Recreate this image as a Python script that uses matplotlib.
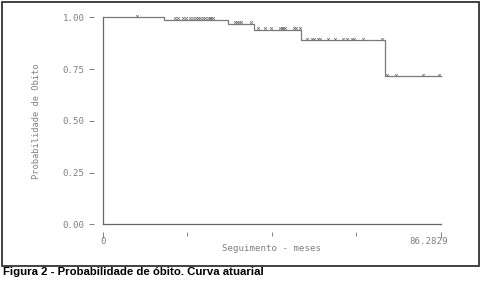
import numpy as np
import matplotlib
matplotlib.use("Agg")
import matplotlib.pyplot as plt
import matplotlib.transforms as mtransforms
from matplotlib.patches import Rectangle

# ---- data ----
step_times = [0.0, 15.65, 32.0, 38.55, 50.55, 72.1]
levels = [1.0, 0.989, 0.968, 0.941, 0.890, 0.716]
end_time = 86.2829
censor_times = [8.68,
                18.38, 19.15, 20.42, 21.19, 22.21, 22.98, 23.74, 24.25, 24.76,
                25.53, 26.04, 26.81, 27.32, 27.57, 28.08,
                33.70, 34.21, 34.72, 35.23, 37.78,
                39.57, 41.36, 42.89, 45.19, 45.70, 45.95, 46.46, 48.76, 49.27, 50.29,
                52.08, 53.36, 53.74, 54.89, 55.40, 57.44, 59.23, 61.27, 62.29,
                63.57, 63.95, 66.37, 71.22,
                72.50, 74.80, 81.69, 85.78]
x_tick_values = [0, 21.57, 43.14, 64.71, 86.2829]
x_tick_labels = ["0", "", "", "", "86.2829"]
y_tick_values = [0.0, 0.25, 0.5, 0.75, 1.0]
y_tick_labels = ["0.00", "0.25", "0.50", "0.75", "1.00"]
x_label = "Seguimento - meses"
y_label = "Probabilidade de Obito"
caption = "Figura 2 - Probabilidade de óbito. Curva atuarial"

W, H = 481, 281
fig = plt.figure(figsize=(W / 100, H / 100), dpi=100)
fig.patch.set_facecolor("white")

# frame around the figure area
fig.patches.append(Rectangle((1.5 / W, 1 - 266 / H), 477.5 / W, 264.5 / H,
                             transform=fig.transFigure, fill=False,
                             edgecolor="#333333", linewidth=1.3))

ax = fig.add_axes([103 / W, 1 - 224.3 / H, 338 / W, 207 / H])
ax.set_xlim(0, end_time)
ax.set_ylim(0, 1)

txt_col = "#808080"
mono = "DejaVu Sans Mono"

# survival step curve
xs = list(step_times) + [end_time]
ys = list(levels) + [levels[-1]]
ax.step(xs, ys, where="post", color="#7a7a7a", linewidth=0.9, clip_on=False, zorder=3)

# censor marks
st = np.array(step_times)
lv = np.array(levels)
cy = [lv[np.searchsorted(st, t, side="right") - 1] for t in censor_times]
ax.plot(censor_times, np.array(cy) + 0.007, linestyle="none", marker="x",
        markersize=1.9, markeredgewidth=0.55, color="#707070", clip_on=False, zorder=4)

# axes L-shape drawn at data position
ax.plot([0, 0], [0, 1], color="#666666", linewidth=0.9, clip_on=False, zorder=2)
ax.plot([0, end_time], [0, 0], color="#666666", linewidth=0.9, clip_on=False, zorder=2)

for s in ["top", "right"]:
    ax.spines[s].set_visible(False)
for s in ["left", "bottom"]:
    ax.spines[s].set_color("none")
ax.spines["left"].set_position(("outward", 6.5))
ax.spines["bottom"].set_position(("outward", 5.5))

ax.set_yticks(y_tick_values)
ax.set_yticklabels(y_tick_labels, family=mono, fontsize=6.6, color=txt_col)
ax.tick_params(axis="y", direction="out", length=3.6, width=0.7, color="#808080", pad=3)

ax.set_xticks([x_tick_values[0], x_tick_values[-1]])
ax.set_xticklabels([x_tick_labels[0], x_tick_labels[-1]], family=mono, fontsize=6.6, color=txt_col)
ax.set_xticks(x_tick_values[1:-1], minor=True)
ax.tick_params(axis="x", which="major", direction="out", length=4.5, width=0.7,
               color="#808080", pad=-1)
ax.tick_params(axis="x", which="minor", direction="out", length=3.2, width=0.7,
               color="#808080")

# shift the last tick label left as in the reference
last_lbl = ax.get_xticklabels()[-1]
last_lbl.set_transform(last_lbl.get_transform() +
                       mtransforms.ScaledTranslation(-12 / 100, 0, fig.dpi_scale_trans))

ax.set_xlabel(x_label, family=mono, fontsize=6.6, color=txt_col, labelpad=-1)
ax.set_ylabel(y_label, family=mono, fontsize=6.3, color=txt_col, labelpad=16)
ax.patch.set_alpha(0)

fig.text(3 / W, 1 - 272 / H, caption, family="Liberation Sans", weight="bold",
         fontsize=8.2, color="black", ha="left", va="center")

fig.savefig("out.png", dpi=100)
